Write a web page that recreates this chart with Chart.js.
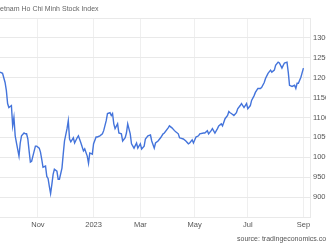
<!DOCTYPE html>
<html>
<head>
<meta charset="utf-8">
<script src="https://cdn.jsdelivr.net/npm/chart.js@4"></script>
<style>
  body { margin: 0; width: 326px; height: 245px; overflow: hidden; position: relative; background: #fff; font-family: "Liberation Sans", Arial, sans-serif; }
  #wrap { position: absolute; left: -2px; top: 0; width: 334px; height: 245px; }
  #title { position: absolute; left: -6px; top: 5px; font-size: 7px; color: #666; white-space: nowrap; }
  #source { position: absolute; left: 237px; top: 235px; font-size: 7px; color: #555; white-space: nowrap; }
</style>
</head>
<body>
<div id="wrap"><canvas id="myChart" width="334" height="245"></canvas></div>
<div id="title">Vietnam Ho Chi Minh Stock Index</div>
<div id="source">source: tradingeconomics.com</div>
<script>
const ctx = document.getElementById('myChart');

// trading-day index, 0 = first session of Nov 2022
const tradingDay = [-30,-28,-26,-25,-24,-23,-21,-20,-19,-18,-17,-15,-14,-13,-11,-10,-9,-8,-7,-6,-5,-4,-2,-1,
  1,2,3,4,6,7,8,9,10,11,12,13,15,16,17,19,20,21,23,24,25,26,28,29,31,32,34,36,37,39,40,41,43,44,46,47,49,
  51,52,54,55,57,58,59,60,61,63,64,66,67,69,70,71,73,74,76,78,79,81,82,84,85,87,89,90,92,93,95,97,99,100,
  103,104,106,108,109,111,112,115,117,119,120,122,123,125,127,128,131,132,134,135,137,138,140,142,143,145,
  146,148,150,151,152,153,155,157,158,160,161,163,165,166,168,169,171,172,174,176,177,179,180,182,184,185,
  187,188,190,191,193,194,195,197,198,199,201,203,204,205,206,208,210];
const indexClose = [1214,1211,1188,1168,1135,1125,1130,1079,1100,1054,1036,1003,1036,1054,1061,1059,1059,1046,1016,988,990,1003,1028,1028,
  1023,1013,995,975,978,952,947,927,909,932,957,970,965,945,945,973,1008,1041,1072,1092,1046,1039,1049,1036,1049,1054,1036,1016,1021,1003,985,1011,1008,1034,1051,1051,1054,
  1059,1067,1092,1110,1112,1105,1110,1084,1072,1084,1061,1059,1041,1049,1061,1084,1059,1034,1023,1036,1023,1034,1021,1028,1046,1054,1056,1041,1023,1036,1041,1049,1059,1061,
  1074,1079,1074,1067,1064,1059,1049,1046,1041,1034,1036,1044,1036,1051,1054,1059,1061,1061,1067,1059,1067,1072,1061,1072,1079,1084,
  1079,1097,1105,1115,1112,1110,1105,1112,1122,1130,1135,1125,1135,1122,1130,1143,1155,1163,1173,1173,1176,1188,1198,1211,1219,1214,
  1219,1231,1239,1237,1224,1231,1237,1239,1214,1181,1178,1181,1173,1186,1186,1201,1224];

const monthTicks = [0, 44, 81, 124, 166, 210];
const monthLabels = ['Nov', '2023', 'Mar', 'May', 'Jul', 'Sep'];
const yTicks = [850, 900, 950, 1000, 1050, 1100, 1150, 1200, 1250, 1300, 1350];

const puntos = tradingDay.map((d, i) => ({x: d, y: indexClose[i]}));

new Chart(ctx, {
    type: 'line',
    data: {
        datasets: [{
            label: 'VN Index',
            data: puntos,
            borderColor: '#4474db',
            borderWidth: 1.4,
            pointRadius: 0,
            tension: 0,
            fill: false
        }]
    },
    options: {
        responsive: false,
        animation: false,
        devicePixelRatio: 1,
        layout: { padding: { left: 0, right: 0, top: 18, bottom: 16 } },
        plugins: { legend: { display: false }, tooltip: { enabled: false } },
        scales: {
            x: {
                type: 'linear',
                min: -31.6,
                max: 215.2,
                afterBuildTicks: (scale) => { scale.ticks = monthTicks.map(v => ({value: v})) },
                afterFit: (scale) => { scale.height = 12 },
                grid: { color: '#efefef', lineWidth: 1, drawTicks: false },
                border: { display: false },
                ticks: {
                    padding: 3,
                    maxRotation: 0,
                    autoSkip: false,
                    color: '#555',
                    font: { size: 7.5, family: 'Liberation Sans' },
                    callback: (v) => monthLabels[monthTicks.indexOf(v)] || ''
                }
            },
            y: {
                position: 'right',
                min: 850,
                max: 1350,
                afterBuildTicks: (scale) => { scale.ticks = yTicks.map(v => ({value: v})) },
                afterFit: (scale) => { scale.width = 22 },
                grid: { color: '#e9e9e9', lineWidth: 1, drawTicks: false },
                border: { display: true, color: '#e9e9e9' },
                ticks: {
                    padding: 3,
                    color: '#555',
                    font: { size: 7.5, family: 'Liberation Sans' },
                    callback: (v) => (v === 850 || v === 1350) ? '' : v
                }
            }
        }
    }
});
</script>
</body>
</html>
